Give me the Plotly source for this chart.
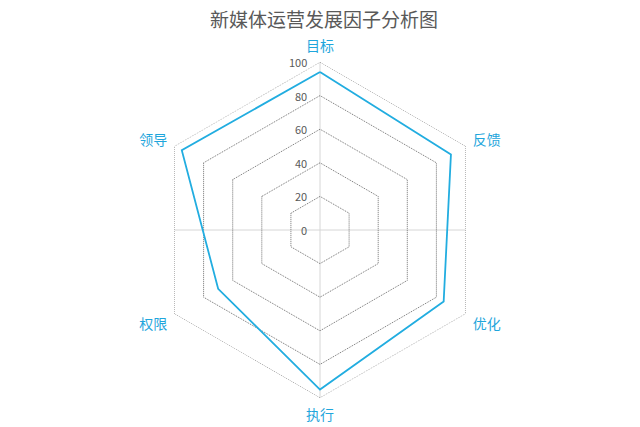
import plotly.graph_objects as go

# 新媒体运营发展因子分析 - radar
factors = ["目标", "反馈", "优化", "执行", "权限", "领导"]
scores = [94, 90, 85, 95, 70, 95]
radial_ticks = [0, 20, 40, 60, 80, 100]
r_max = 100

# page body has an 8px margin, so size/positions are shifted by 8px
W, H = 632, 419
cx, cy, R = 312, 222, 168   # centre and outer radius in px

grid_col = "#707070"

fig = go.Figure()

# outer dotted ring (plotly skips the grid line at the range end)
fig.add_trace(go.Scatterpolar(
    r=[r_max] * (len(factors) + 1),
    theta=factors + factors[:1],
    mode="lines",
    line=dict(color=grid_col, width=1, dash="1px,1px"),
    showlegend=False,
    hoverinfo="skip",
))

fig.add_trace(go.Scatterpolar(
    r=scores + scores[:1],
    theta=factors + factors[:1],
    mode="lines",
    line=dict(color="#22ade0", width=1.8),
    showlegend=False,
    hoverinfo="skip",
))

dom_x = [(cx - R) / W, (cx + R) / W]
dom_y = [(H - cy - R) / H, (H - cy + R) / H]

# radial tick labels, right-aligned just left of the vertical spoke
tick_notes = [
    dict(text=str(t), xref="paper", yref="paper",
         x=(cx - 11) / W, y=(H - cy + t / r_max * R) / H,
         xanchor="right", yanchor="middle", showarrow=False,
         font=dict(size=11, color="#595959"))
    for t in radial_ticks
]

fig.update_layout(
    width=W, height=H,
    margin=dict(l=0, r=0, t=0, b=0),
    paper_bgcolor="white",
    plot_bgcolor="white",
    font=dict(family="Noto Sans CJK SC, sans-serif"),
    title=dict(
        text="新媒体运营发展因子分析图",
        x=0.5, xanchor="center",
        y=1 - 12 / H, yanchor="middle",
        font=dict(size=19, color="#595959"),
    ),
    annotations=tick_notes,
    polar=dict(
        domain=dict(x=dom_x, y=dom_y),
        bgcolor="rgba(0,0,0,0)",
        gridshape="linear",
        radialaxis=dict(
            range=[0, r_max],
            tickvals=radial_ticks,
            angle=90,
            showticklabels=False,
            showline=False,
            ticks="",
            gridcolor=grid_col,
            griddash="1px,1px",
            gridwidth=1,
        ),
        angularaxis=dict(
            direction="clockwise",
            rotation=90,
            showgrid=False,
            showline=False,
            ticks="outside",
            ticklen=5,
            tickcolor="rgba(0,0,0,0)",
            tickfont=dict(size=14, color="#1fa6dc"),
        ),
    ),
    shapes=[
        # the light cross through the centre
        dict(type="line", xref="paper", yref="paper",
             x0=(cx - R * 0.866) / W, x1=(cx + R * 0.866) / W,
             y0=(H - cy) / H, y1=(H - cy) / H,
             line=dict(color="#d6d6d6", width=1), layer="below"),
        dict(type="line", xref="paper", yref="paper",
             x0=cx / W, x1=cx / W,
             y0=(H - cy - R) / H, y1=(H - cy + R) / H,
             line=dict(color="#d6d6d6", width=1), layer="below"),
    ],
)

fig.write_html("out.html")
